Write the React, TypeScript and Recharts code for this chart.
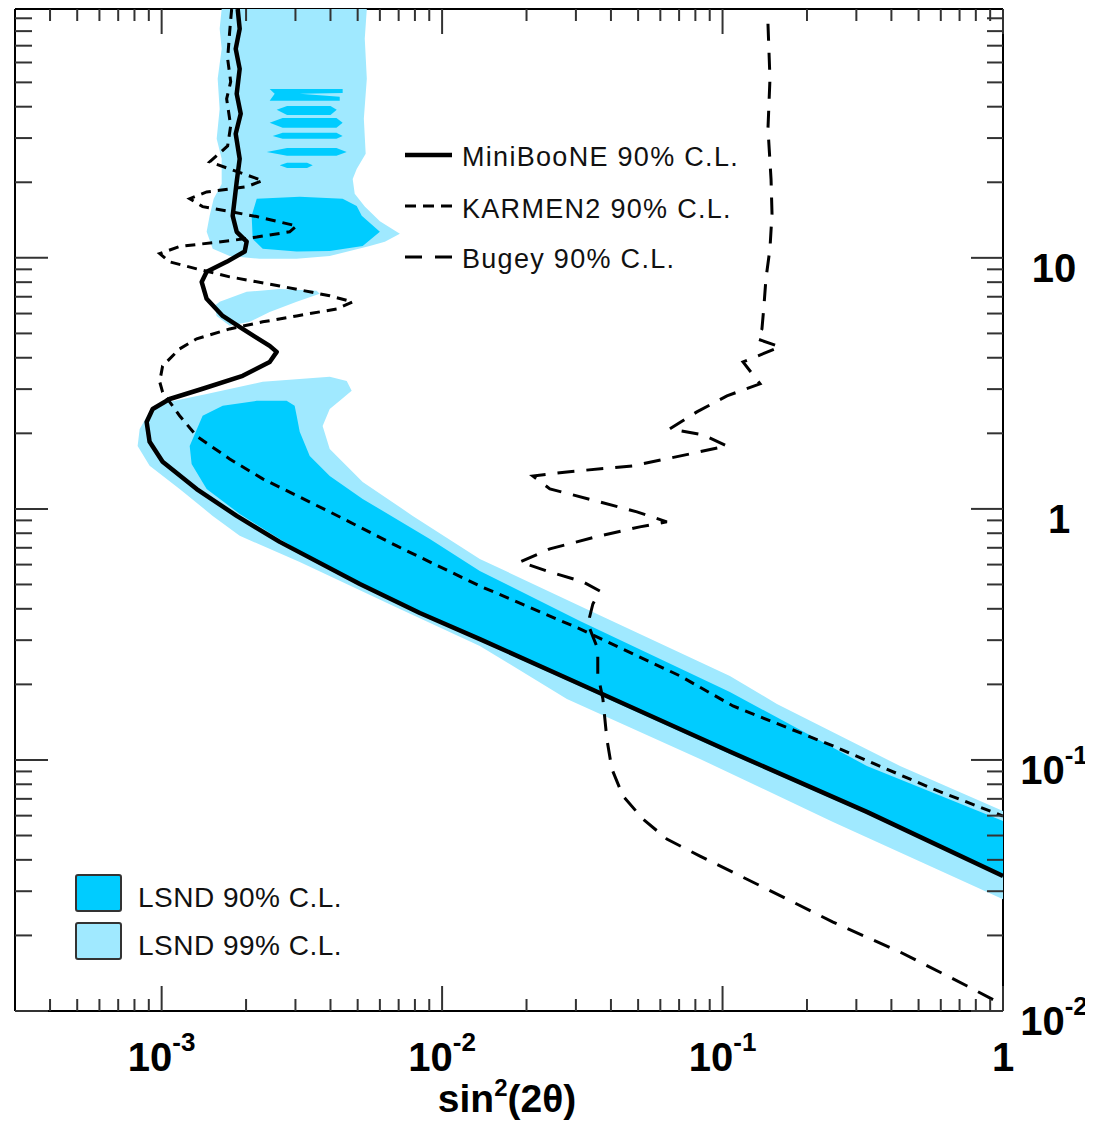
import React from 'react';
import { ComposedChart, XAxis, YAxis, Scatter } from 'recharts';

const FONT = '"Liberation Sans", Arial, Helvetica, sans-serif';
const W = 1085;
const H = 1117;
const DARK = '#00ccff';
const LIGHT = '#a0e9ff';

type P = { x: number; y: number };
const pts = (a: number[][]): P[] => a.map(([x, y]) => ({ x, y }));

// ---- axis ticks ----
const xTicks = [
  4e-4, 5e-4, 6e-4, 7e-4, 8e-4, 9e-4,
  1e-3, 2e-3, 3e-3, 4e-3, 5e-3, 6e-3, 7e-3, 8e-3, 9e-3,
  1e-2, 2e-2, 3e-2, 4e-2, 5e-2, 6e-2, 7e-2, 8e-2, 9e-2,
  0.1, 0.2, 0.3, 0.4, 0.5, 0.6, 0.7, 0.8, 0.9, 1,
];
const xMajor = [0.001, 0.01, 0.1, 1];
const xMajorLabels = [['10', '-3'], ['10', '-2'], ['10', '-1'], ['1', '']];
const yTicks = [
  0.01, 0.02, 0.03, 0.04, 0.05, 0.06, 0.07, 0.08, 0.09,
  0.1, 0.2, 0.3, 0.4, 0.5, 0.6, 0.7, 0.8, 0.9,
  1, 2, 3, 4, 5, 6, 7, 8, 9,
  10, 20, 30, 40, 50, 60, 70, 80, 90,
];
const yMajor = [0.01, 0.1, 1, 10];
const yMajorLabels = [['10', '-2'], ['10', '-1'], ['1', ''], ['10', '']];
const xDomain = [3e-4, 1];
const yDomain = [0.01, 98];
const frameCorners = pts([[3e-4, 0.01], [1, 98]]);

// ---- exclusion curves (sin^2 2theta, dm^2) ----
const miniboone = pts([
  [1.867e-3, 98], [1.898e-3, 81.7], [1.837e-3, 68], [1.898e-3, 56.6], [1.852e-3, 45.0],
  [1.914e-3, 37.5], [1.837e-3, 31.2], [1.898e-3, 24.8], [1.852e-3, 20.1], [1.792e-3, 14.7],
  [1.852e-3, 12.7], [2.01e-3, 11.6], [1.978e-3, 10.6], [1.705e-3, 9.64], [1.447e-3, 8.8],
  [1.389e-3, 8.02], [1.447e-3, 6.87], [1.651e-3, 5.87], [1.945e-3, 5.21], [2.428e-3, 4.46],
  [2.572e-3, 4.22], [2.428e-3, 3.85], [1.945e-3, 3.39], [1.4e-3, 3.01], [1.068e-3, 2.74],
  [9.29e-4, 2.5], [8.84e-4, 2.22], [9.06e-4, 1.85], [1.008e-3, 1.54], [1.333e-3, 1.2],
  [1.852e-3, 0.938], [2.636e-3, 0.739], [5.09e-3, 0.5026], [8.33e-3, 0.385], [0.01363, 0.303],
  [0.0357, 0.187], [0.106, 0.108], [0.327, 0.0621], [1, 0.0345],
]);

const karmen = pts([
  [1.777e-3, 98], [1.748e-3, 79.5], [1.719e-3, 62.1], [1.763e-3, 50.3], [1.705e-3, 43.0],
  [1.763e-3, 33.6], [1.719e-3, 27.9], [1.483e-3, 24.1], [1.748e-3, 22.6], [2.293e-3, 20.3],
  [2.01e-3, 19.2], [1.447e-3, 18.3], [1.259e-3, 17.2], [1.4e-3, 16.0], [1.748e-3, 15.3],
  [2.183e-3, 14.6], [3.03e-3, 13.4], [2.86e-3, 12.7], [2.183e-3, 12.1], [1.748e-3, 11.7],
  [1.159e-3, 11.1], [9.84e-4, 10.4], [1.068e-3, 9.64], [1.333e-3, 9.04], [1.748e-3, 8.4],
  [2.636e-3, 7.73], [3.975e-3, 7.06], [4.8e-3, 6.68], [4.21e-3, 6.26], [3.03e-3, 5.87],
  [2.293e-3, 5.56], [1.748e-3, 5.21], [1.333e-3, 4.76], [1.159e-3, 4.34], [1.008e-3, 3.71],
  [9.84e-4, 3.21], [1.008e-3, 2.92], [1.159e-3, 2.35], [1.333e-3, 1.95], [1.748e-3, 1.58],
  [2.293e-3, 1.317], [3.975e-3, 0.973], [6.89e-3, 0.712], [0.01363, 0.493], [0.031, 0.3326],
  [0.0705, 0.2162], [0.1089, 0.1641], [0.2477, 0.1137], [0.563, 0.0766], [1, 0.0598],
]);

const bugey = pts([
  [0.1452, 85.6], [0.1476, 51.7], [0.1452, 32.7], [0.1489, 20.6], [0.1501, 15.0],
  [0.1476, 10.9], [0.1428, 8.25], [0.1405, 6.44], [0.1382, 5.21], [0.1327, 4.76],
  [0.1603, 4.42], [0.1183, 3.85], [0.136, 3.15], [0.1037, 2.82], [0.081, 2.435],
  [0.0649, 2.083], [0.0851, 1.971], [0.1037, 1.782], [0.0765, 1.656], [0.0479, 1.484],
  [0.02786, 1.404], [0.02107, 1.353], [0.02423, 1.201], [0.03652, 1.066], [0.04951, 0.973],
  [0.0633, 0.888], [0.0507, 0.848], [0.03652, 0.781], [0.02423, 0.693], [0.01893, 0.615],
  [0.02423, 0.561], [0.03177, 0.512], [0.03652, 0.471], [0.03448, 0.418], [0.0331, 0.348],
  [0.0359, 0.277], [0.0359, 0.22], [0.03744, 0.175], [0.03868, 0.1213], [0.04031, 0.0921],
  [0.04413, 0.0719], [0.052, 0.0582], [0.0633, 0.0484], [0.0831, 0.0414], [0.144, 0.0306],
  [0.2477, 0.0226], [0.4295, 0.01718], [0.7447, 0.01258], [1, 0.01057],
]);

// ---- LSND allowed regions (polygon outlines) ----
const lsnd99Top = pts([
  [1.637e-3, 98], [5.39e-3, 98], [5.3e-3, 74.6], [5.39e-3, 51.7], [5.26e-3, 35.8],
  [5.34e-3, 26.0], [4.96e-3, 22.6], [4.8e-3, 20.6], [4.88e-3, 18.0], [5.3e-3, 16.0],
  [6.0e-3, 14.0], [7.07e-3, 12.46], [6.25e-3, 11.58], [5.52e-3, 11.16], [3.975e-3, 10.18],
  [3.03e-3, 9.91], [2.237e-3, 9.91], [1.748e-3, 10.18], [1.521e-3, 10.86], [1.447e-3, 12.7],
  [1.483e-3, 14.7], [1.533e-3, 17.2], [1.637e-3, 19.7], [1.637e-3, 24.8], [1.571e-3, 29.8],
  [1.61e-3, 39.2], [1.584e-3, 51.7], [1.637e-3, 68], [1.61e-3, 81.7],
]);
const lsnd99Mid = pts([
  [1.61e-3, 6.68], [2.01e-3, 7.32], [2.636e-3, 7.52], [3.57e-3, 7.39], [3.66e-3, 7.19],
  [3.03e-3, 6.68], [2.428e-3, 6.09], [2.06e-3, 5.56], [1.748e-3, 5.36], [1.571e-3, 5.87],
  [1.546e-3, 6.44],
]);
const lsnd99Main = pts([
  [9.06e-4, 2.435], [1.068e-3, 2.67], [1.447e-3, 2.87], [2.293e-3, 3.21], [3.975e-3, 3.36],
  [4.57e-3, 3.235], [4.76e-3, 2.953], [4.315e-3, 2.694], [3.975e-3, 2.502], [3.75e-3, 2.141],
  [3.975e-3, 1.734], [5.21e-3, 1.281], [7.86e-3, 0.938], [0.01363, 0.632], [0.031, 0.4107],
  [0.1062, 0.2162], [0.1563, 0.1671], [0.4295, 0.0946], [1, 0.0626], [1, 0.0279],
  [0.2477, 0.0566], [0.0831, 0.1009], [0.02786, 0.175], [0.01363, 0.2846], [7.07e-3, 0.3996],
  [3.107e-3, 0.615], [1.898e-3, 0.781], [1.521e-3, 0.938], [1.159e-3, 1.2], [9.06e-4, 1.484],
  [8.21e-4, 1.782], [8.35e-4, 2.083],
]);
const lsnd90Top = pts([
  [2.183e-3, 17.2], [3.107e-3, 17.5], [4.42e-3, 17.2], [4.96e-3, 16.1], [5.17e-3, 14.7],
  [6.0e-3, 12.7], [5.21e-3, 11.16], [3.975e-3, 10.66], [3.03e-3, 10.6], [2.293e-3, 10.86],
  [2.112e-3, 11.9], [2.094e-3, 14.7],
]);
const lsnd90Stripe1 = pts([
  [2.428e-3, 47.1], [4.42e-3, 47.1], [4.42e-3, 45.4], [3.107e-3, 45.0], [4.315e-3, 43.8],
  [4.315e-3, 42.2], [2.428e-3, 42.2], [2.53e-3, 45.0],
]);
const lsnd90Stripe2 = pts([
  [2.572e-3, 38.9], [2.8e-3, 40.3], [4.0e-3, 40.3], [4.21e-3, 38.9], [4.0e-3, 37.1], [2.8e-3, 37.1],
]);
const lsnd90Stripe3 = pts([
  [2.428e-3, 34.5], [2.7e-3, 36.1], [4.2e-3, 36.1], [4.42e-3, 34.5], [4.2e-3, 33.0], [2.7e-3, 33.0],
]);
const lsnd90Stripe4 = pts([
  [2.489e-3, 30.6], [2.7e-3, 31.5], [4.2e-3, 31.5], [4.42e-3, 30.6], [4.2e-3, 29.8], [2.7e-3, 29.8],
]);
const lsnd90Stripe5 = pts([
  [2.37e-3, 26.4], [2.8e-3, 27.4], [4.2e-3, 27.4], [4.57e-3, 26.4], [4.2e-3, 25.5], [2.8e-3, 25.5],
]);
const lsnd90Stripe6 = pts([
  [2.636e-3, 23.4], [2.8e-3, 23.9], [3.3e-3, 23.9], [3.457e-3, 23.4], [3.3e-3, 22.8], [2.8e-3, 22.8],
]);
const lsnd90Main = pts([
  [1.259e-3, 1.782], [1.4e-3, 2.35], [1.651e-3, 2.573], [2.183e-3, 2.694], [2.79e-3, 2.694],
  [2.98e-3, 2.573], [3.03e-3, 2.35], [3.107e-3, 2.027], [3.373e-3, 1.626], [3.975e-3, 1.353],
  [5.21e-3, 1.096], [9.04e-3, 0.759], [0.01363, 0.566], [0.031, 0.3579], [0.1062, 0.1866],
  [0.327, 0.0946], [1, 0.0571], [1, 0.0342], [0.327, 0.0609], [0.1062, 0.1057],
  [0.0357, 0.1832], [0.01363, 0.2979], [8.33e-3, 0.38], [5.09e-3, 0.494], [2.636e-3, 0.759],
  [1.898e-3, 0.955], [1.447e-3, 1.2], [1.279e-3, 1.511],
]);

const lsnd99 = [lsnd99Top, lsnd99Mid, lsnd99Main];
const lsnd90 = [lsnd90Top, lsnd90Stripe1, lsnd90Stripe2, lsnd90Stripe3, lsnd90Stripe4, lsnd90Stripe5, lsnd90Stripe6, lsnd90Main];

// ---- helpers ----
const majorIndex = (arr: number[], v: number) =>
  arr.findIndex((m) => Math.abs(Math.log10(m) - Math.log10(v)) < 1e-6);

const TICK_COLOR = '#333';

const TickLabel = ({ x, y, base, sup }: { x: number; y: number; base: string; sup: string }) => (
  <text x={x} y={y} textAnchor="middle" fontFamily={FONT} fontWeight="bold" fontSize={40} fill="#000">
    <tspan>{base}</tspan>
    {sup ? (
      <tspan fontSize={26} dy={-20}>
        {sup}
      </tspan>
    ) : null}
  </text>
);

const BottomTick = (p: any) => {
  const i = majorIndex(xMajor, p.payload.value);
  const len = i >= 0 ? 25 : 12;
  return (
    <g>
      <line x1={p.x} x2={p.x} y1={p.y} y2={p.y - len} stroke={TICK_COLOR} strokeWidth={2} />
      {i >= 0 ? <TickLabel x={p.x} y={p.y + 60} base={xMajorLabels[i][0]} sup={xMajorLabels[i][1]} /> : null}
    </g>
  );
};
const TopTick = (p: any) => {
  const i = majorIndex(xMajor, p.payload.value);
  const len = i >= 0 ? 25 : 12;
  return <line x1={p.x} x2={p.x} y1={p.y} y2={p.y + len} stroke={TICK_COLOR} strokeWidth={2} />;
};
const RightTick = (p: any) => {
  const i = majorIndex(yMajor, p.payload.value);
  const len = i >= 0 ? 32 : 16;
  const dx = yMajorLabels[i] && yMajorLabels[i][0] === '1' ? 56 : 51;
  return (
    <g>
      <line x1={p.x} x2={p.x - len} y1={p.y} y2={p.y} stroke={TICK_COLOR} strokeWidth={2} />
      {i >= 0 ? <TickLabel x={p.x + dx} y={p.y + 24} base={yMajorLabels[i][0]} sup={yMajorLabels[i][1]} /> : null}
    </g>
  );
};
const LeftTick = (p: any) => {
  const i = majorIndex(yMajor, p.payload.value);
  const len = i >= 0 ? 33 : 17;
  return <line x1={p.x} x2={p.x + len} y1={p.y} y2={p.y} stroke={TICK_COLOR} strokeWidth={2} />;
};

const polygonLine = (fill: string) => (props: any) => (
  <polygon
    points={(props.points || []).map((q: any) => `${q.x},${q.y}`).join(' ')}
    fill={fill}
    stroke="none"
  />
);
const noShape = () => <g />;

const axisLine = { stroke: '#000', strokeWidth: 2 };

export default function App() {
  return (
    <div style={{ position: 'relative', width: W, height: H }}>
      <ComposedChart width={W} height={H} margin={{ top: 0, right: 0, bottom: 0, left: 6 }}>
        <XAxis
          dataKey="x"
          type="number"
          scale="log"
          domain={xDomain}
          allowDataOverflow
          ticks={xTicks}
          interval={0}
          height={114}
          tickSize={0}
          tickMargin={0}
          tickLine={false}
          axisLine={axisLine}
          tick={(p: any) => <BottomTick {...p} />}
        />
        <XAxis
          xAxisId="top"
          orientation="top"
          dataKey="x"
          type="number"
          scale="log"
          domain={xDomain}
          allowDataOverflow
          ticks={xTicks}
          interval={0}
          height={1}
          tickSize={0}
          tickMargin={0}
          tickLine={false}
          axisLine={axisLine}
          tick={(p: any) => <TopTick {...p} />}
        />
        <YAxis
          orientation="right"
          dataKey="y"
          type="number"
          scale="log"
          domain={yDomain}
          allowDataOverflow
          ticks={yTicks}
          interval={0}
          width={90}
          tickSize={0}
          tickMargin={0}
          tickLine={false}
          axisLine={axisLine}
          tick={(p: any) => <RightTick {...p} />}
        />
        <YAxis
          yAxisId="left"
          orientation="left"
          dataKey="y"
          type="number"
          scale="log"
          domain={yDomain}
          allowDataOverflow
          ticks={yTicks}
          interval={0}
          width={1}
          tickSize={0}
          tickMargin={0}
          tickLine={false}
          axisLine={axisLine}
          tick={(p: any) => <LeftTick {...p} />}
        />
        <Scatter
          xAxisId="top"
          yAxisId="left"
          data={frameCorners}
          shape={noShape}
          legendType="none"
          isAnimationActive={false}
        />
        {lsnd99.map((poly, i) => (
          <Scatter
            key={'l99-' + i}
            data={poly}
            line={polygonLine(LIGHT)}
            shape={noShape}
            legendType="none"
            isAnimationActive={false}
          />
        ))}
        {lsnd90.map((poly, i) => (
          <Scatter
            key={'l90-' + i}
            data={poly}
            line={polygonLine(DARK)}
            shape={noShape}
            legendType="none"
            isAnimationActive={false}
          />
        ))}
        <Scatter
          data={bugey}
          line={{ stroke: '#000', strokeWidth: 3, strokeDasharray: '17 12' }}
          lineJointType="linear"
          shape={noShape}
          legendType="none"
          isAnimationActive={false}
        />
        <Scatter
          data={karmen}
          line={{ stroke: '#000', strokeWidth: 3, strokeDasharray: '10 7' }}
          lineJointType="linear"
          shape={noShape}
          legendType="none"
          isAnimationActive={false}
        />
        <Scatter
          data={miniboone}
          line={{ stroke: '#000', strokeWidth: 4.5, strokeLinejoin: 'round' }}
          lineJointType="linear"
          shape={noShape}
          legendType="none"
          isAnimationActive={false}
        />
      </ComposedChart>
      <svg
        width={W}
        height={H}
        style={{ position: 'absolute', left: 0, top: 0, pointerEvents: 'none' }}
        fontFamily={FONT}
      >
        <line x1={397} x2={444} y1={147} y2={147} stroke="#000" strokeWidth={4.5} />
        <line x1={397} x2={444} y1={198} y2={198} stroke="#000" strokeWidth={3} strokeDasharray="11 7" />
        <line x1={397} x2={444} y1={249} y2={249} stroke="#000" strokeWidth={3} strokeDasharray="17 13" />
        <text x={454} y={158} fontSize={27} letterSpacing={1.3} fill="#111">MiniBooNE 90% C.L.</text>
        <text x={454} y={210} fontSize={27} letterSpacing={1.3} fill="#111">KARMEN2 90% C.L.</text>
        <text x={454} y={260} fontSize={27} letterSpacing={1.3} fill="#111">Bugey 90% C.L.</text>

        <rect x={68} y={867} width={45} height={36} rx={2} fill={DARK} stroke="#333" strokeWidth={2} />
        <rect x={68} y={915} width={45} height={36} rx={2} fill={LIGHT} stroke="#333" strokeWidth={2} />
        <text x={130} y={899} fontSize={28} letterSpacing={0.5} fill="#111">LSND 90% C.L.</text>
        <text x={130} y={947} fontSize={28} letterSpacing={0.5} fill="#111">LSND 99% C.L.</text>

        <text x={499} y={1104} textAnchor="middle" fontSize={39} fontWeight="bold" fill="#000">
          <tspan>sin</tspan>
          <tspan fontSize={24} dy={-16}>2</tspan>
          <tspan dy={16}>(2θ)</tspan>
        </text>
      </svg>
    </div>
  );
}
